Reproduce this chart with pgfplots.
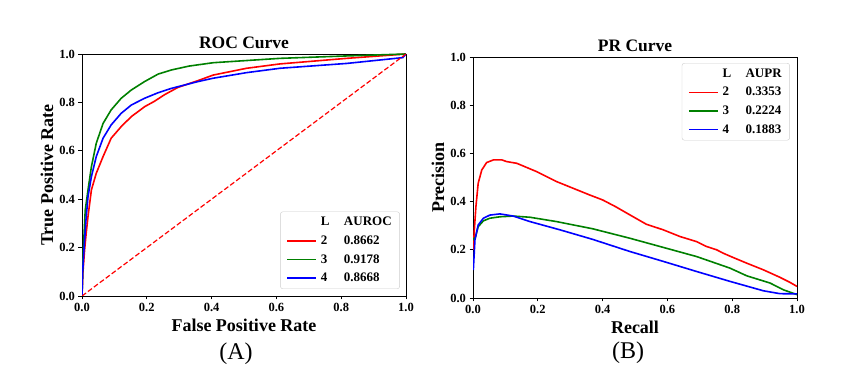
\documentclass[border=0pt]{standalone}
\usepackage{fontspec}
\setmainfont{Liberation Serif}
\usepackage{pgfplots}
\pgfplotsset{compat=1.18}

\definecolor{mplgreen}{HTML}{008000}

\pgfplotsset{
  curvestyle/.style={
    scale only axis,
    xmin=0, xmax=1, ymin=0, ymax=1,
    xtick={0,0.2,0.4,0.6,0.8,1}, ytick={0,0.2,0.4,0.6,0.8,1},
    tick pos=left, tick align=outside, major tick length=3.5pt,
    tick style={black, line width=0.8pt},
    axis line style={line width=0.8pt},
    ticklabel style={font=\fontsize{12.5}{14}\selectfont\bfseries,
      /pgf/number format/assume math mode=true,
      /pgf/number format/fixed, /pgf/number format/fixed zerofill,
      /pgf/number format/precision=1},
    label style={font=\fontsize{18}{20}\selectfont\bfseries},
    title style={font=\fontsize{17.5}{20}\selectfont\bfseries,
      at={(axis description cs:0.5,1.02)}, anchor=center},
    xlabel style={at={(axis description cs:0.5,-0.12)}, anchor=center},
    ylabel style={at={(axis description cs:-0.108,0.5)}, anchor=center},
    legend cell align=left,
    legend style={font=\fontsize{13}{15}\selectfont\bfseries,
      draw=black!20, rounded corners=2.5pt, inner xsep=6pt, inner ysep=3.5pt,
      row sep=4.5pt, column sep=2pt},
    legend image code/.code={\draw[##1] (0pt,0pt) -- (29pt,0pt);},
  }
}

\begin{document}
\begin{tikzpicture}
\path[use as bounding box] (0,0) rectangle (849pt,388pt);

% (A) ROC
\begin{axis}[curvestyle,
  at={(82pt,92pt)}, anchor=south west,
  width=324pt, height=242pt,
  title={ROC Curve},
  xlabel={False Positive Rate},
  ylabel={True Positive Rate},
  legend style={at={(axis description cs:0.981,0.029)}, anchor=south east},
]
\addlegendimage{empty legend}
\addlegendentry{\makebox[23pt][l]{L}AUROC}
\addplot[red, line width=1.6pt] coordinates {
(0,0) (0.003,0.1) (0.008,0.19) (0.013,0.26) (0.0185,0.328) (0.029,0.438)
(0.044,0.507) (0.065,0.576) (0.09,0.652) (0.121,0.70) (0.152,0.741)
(0.173,0.762) (0.193,0.782) (0.224,0.805) (0.255,0.832) (0.296,0.862)
(0.358,0.89) (0.405,0.913) (0.508,0.941) (0.611,0.959) (0.817,0.982) (1,1)};
\addlegendentry{\makebox[23pt][l]{2}0.8662}
\addplot[mplgreen, line width=1.6pt] coordinates {
(0,0) (0.002,0.1) (0.004,0.19) (0.01,0.355) (0.0185,0.438) (0.029,0.534)
(0.044,0.631) (0.065,0.713) (0.09,0.769) (0.121,0.817) (0.152,0.851)
(0.193,0.886) (0.235,0.917) (0.276,0.934) (0.33,0.95) (0.405,0.964)
(0.611,0.982) (0.817,0.992) (1,1)};
\addlegendentry{\makebox[23pt][l]{3}0.9178}
\addplot[blue, line width=1.6pt] coordinates {
(0,0) (0.002,0.1) (0.006,0.19) (0.012,0.31) (0.0185,0.41) (0.029,0.493)
(0.044,0.576) (0.065,0.652) (0.09,0.707) (0.121,0.755) (0.152,0.789)
(0.193,0.817) (0.235,0.84) (0.276,0.858) (0.358,0.886) (0.405,0.9)
(0.508,0.923) (0.611,0.941) (0.817,0.961) (0.99,0.985) (1,1)};
\addlegendentry{\makebox[23pt][l]{4}0.8668}
\addplot[red, line width=1.2pt, dash pattern=on 5pt off 2.4pt, forget plot]
  coordinates {(0,0) (1,1)};
\end{axis}
\node[font=\fontsize{24}{26}\selectfont] at (236pt,34pt) {(A)};

% (B) PR
\begin{axis}[curvestyle,
  at={(473pt,90pt)}, anchor=south west,
  width=324pt, height=241pt,
  title={PR Curve},
  xlabel={Recall},
  ylabel={Precision},
  legend style={at={(axis description cs:0.978,0.975)}, anchor=north east},
]
\addlegendimage{empty legend}
\addlegendentry{\makebox[23pt][l]{L}AUPR}
\addplot[red, line width=1.6pt] coordinates {
(0.001,0.2) (0.004,0.28) (0.009,0.379) (0.016,0.476) (0.027,0.531)
(0.042,0.562) (0.063,0.573) (0.089,0.573) (0.104,0.566) (0.135,0.559)
(0.197,0.524) (0.258,0.483) (0.361,0.427) (0.4,0.407) (0.44,0.379)
(0.484,0.345) (0.535,0.306) (0.587,0.283) (0.639,0.255) (0.69,0.234)
(0.72,0.214) (0.752,0.2) (0.772,0.186) (0.803,0.168) (0.844,0.145)
(0.896,0.117) (0.947,0.086) (0.978,0.065) (1,0.048)};
\addlegendentry{\makebox[23pt][l]{2}0.3353}
\addplot[mplgreen, line width=1.6pt] coordinates {
(0.001,0.25) (0.004,0.241) (0.008,0.255) (0.016,0.296) (0.032,0.32)
(0.052,0.331) (0.083,0.337) (0.124,0.34) (0.176,0.335) (0.258,0.317)
(0.37,0.287) (0.484,0.248) (0.587,0.21) (0.69,0.172) (0.793,0.124)
(0.845,0.092) (0.917,0.062) (0.958,0.034) (1,0.014)};
\addlegendentry{\makebox[23pt][l]{3}0.2224}
\addplot[blue, line width=1.6pt] coordinates {
(0.001,0.116) (0.006,0.241) (0.016,0.303) (0.032,0.331) (0.052,0.344)
(0.083,0.349) (0.124,0.34) (0.176,0.317) (0.268,0.283) (0.37,0.243)
(0.484,0.193) (0.587,0.152) (0.69,0.11) (0.793,0.069) (0.896,0.03)
(0.947,0.018) (1,0.017)};
\addlegendentry{\makebox[23pt][l]{4}0.1883}
\end{axis}
\node[font=\fontsize{24}{26}\selectfont] at (628pt,35pt) {(B)};
\end{tikzpicture}
\end{document}
